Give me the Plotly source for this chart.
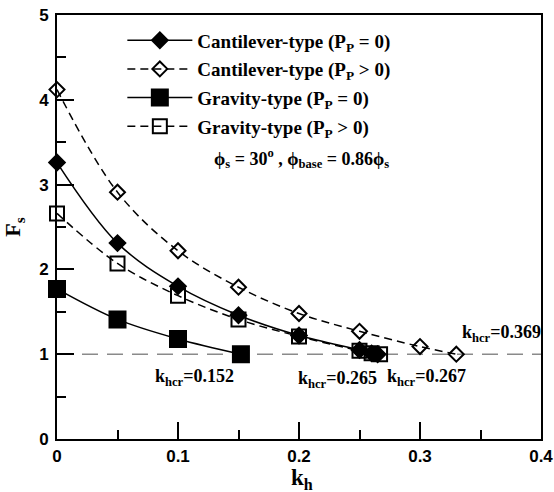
import plotly.graph_objects as go

# ---- data ----
cant0_x = [0.0, 0.05, 0.10, 0.15, 0.20, 0.25, 0.26, 0.265]
cant0_y = [3.26, 2.31, 1.80, 1.46, 1.22, 1.05, 1.01, 1.00]

cantP_x = [0.0, 0.05, 0.10, 0.15, 0.20, 0.25, 0.30, 0.33]
cantP_y = [4.12, 2.91, 2.22, 1.79, 1.48, 1.27, 1.09, 1.00]

grav0_x = [0.0, 0.05, 0.10, 0.152]
grav0_y = [1.77, 1.41, 1.18, 1.00]

gravP_x = [0.0, 0.05, 0.10, 0.15, 0.20, 0.25, 0.26, 0.267]
gravP_y = [2.66, 2.07, 1.69, 1.41, 1.21, 1.04, 1.01, 1.00]

names = ["Cantilever-type (P<sub>P</sub> = 0)",
         "Cantilever-type (P<sub>P</sub> > 0)",
         "Gravity-type (P<sub>P</sub> = 0)",
         "Gravity-type (P<sub>P</sub> > 0)"]

fs_limit = 1.0
x_range = [0.0, 0.4]
y_range = [0.0, 5.0]

khcr_labels = ["0.152", "0.265", "0.267", "0.369"]
khcr_pos_x = [0.114, 0.232, 0.305, 0.367]
khcr_pos_y = [0.73, 0.70, 0.72, 1.24]

SERIF = "Liberation Serif"
SANS = "Liberation Sans"

fig = go.Figure()

# threshold line
fig.add_trace(go.Scatter(x=x_range, y=[fs_limit, fs_limit], mode="lines",
                         line=dict(color="#8a8a8a", width=1.5, dash="16px,9px"),
                         showlegend=False, hoverinfo="skip"))

series = [
    (cant0_x, cant0_y, names[0], "diamond", "solid", 12),
    (cantP_x, cantP_y, names[1], "diamond-open", "8px,5px", 11.5),
    (grav0_x, grav0_y, names[2], "square", "solid", 16),
    (gravP_x, gravP_y, names[3], "square-open", "8px,5px", 14),
]
for i, (xs, ys, nm, sym, dash, sz) in enumerate(series):
    fig.add_trace(go.Scatter(
        x=xs, y=ys, name=nm, mode="lines+markers",
        line=dict(color="black", width=1.5, dash=dash, shape="spline"),
        marker=dict(symbol=sym, size=sz, color="black",
                    line=dict(color="black", width=2)),
        cliponaxis=False, legendgroup="g%d" % i))

annotations = [
    dict(x=0.202, y=3.31, xref="x", yref="y", showarrow=False,
         text="<b>ϕ<sub>s</sub> = 30<sup>o</sup> , ϕ<sub>base</sub> = 0.86ϕ<sub>s</sub></b>",
         font=dict(family=SERIF, size=18, color="black")),
    dict(x=0.506, y=-0.094, xref="paper", yref="paper", showarrow=False,
         xanchor="center", yanchor="middle",
         text="<b>k<sub>h</sub></b>",
         font=dict(family=SERIF, size=23, color="black")),
]
for lab, ax_, ay_ in zip(khcr_labels, khcr_pos_x, khcr_pos_y):
    annotations.append(dict(x=ax_, y=ay_, xref="x", yref="y", showarrow=False,
                            text="<b>k<sub>hcr</sub>=%s</b>" % lab,
                            font=dict(family=SERIF, size=18, color="black")))

fig.update_layout(
    width=554, height=492,
    margin=dict(l=57, r=13, t=15, b=53),
    paper_bgcolor="white", plot_bgcolor="white",
    showlegend=True,
    legend=dict(x=0.135, y=0.985, xanchor="left", yanchor="top",
                bgcolor="rgba(0,0,0,0)", tracegroupgap=1, itemwidth=65,
                font=dict(family=SERIF, size=19, color="black", weight="bold")),
    annotations=annotations,
    xaxis=dict(range=x_range, dtick=0.1, tick0=0, ticks="inside", ticklen=17,
               tickwidth=2, tickcolor="black", showgrid=False, zeroline=False,
               showline=True, linewidth=2, linecolor="black", mirror=True,
               automargin=False, ticklabelstandoff=1,
               minor=dict(dtick=0.05, ticks="inside", ticklen=9, tickwidth=2,
                          tickcolor="black", showgrid=False),
               tickfont=dict(family=SANS, size=17, color="black", weight="bold")),
    yaxis=dict(range=y_range, dtick=1, tick0=0, ticks="inside", ticklen=17,
               tickwidth=2, tickcolor="black", showgrid=False, zeroline=False,
               showline=True, linewidth=2, linecolor="black", mirror=True,
               automargin=False, ticklabelstandoff=3,
               minor=dict(dtick=0.5, ticks="inside", ticklen=9, tickwidth=2,
                          tickcolor="black", showgrid=False),
               tickfont=dict(family=SANS, size=17, color="black", weight="bold"),
               title=dict(text="<b>F<sub>s</sub></b>",
                          font=dict(family=SERIF, size=22, color="black"))),
)

fig.write_html("out.html")
